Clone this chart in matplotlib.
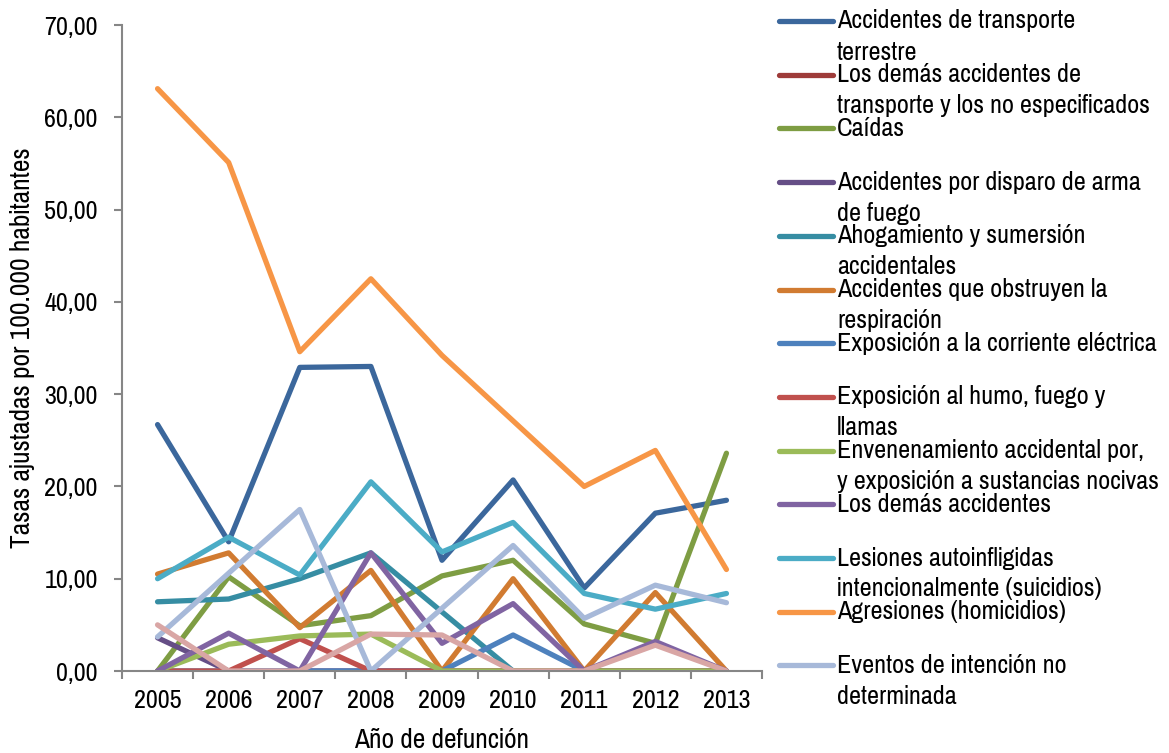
import matplotlib
matplotlib.use("Agg")
import matplotlib.pyplot as plt
from matplotlib import font_manager
from matplotlib.lines import Line2D

# pick a narrow sans face, falling back to a regular one
installed = {f.name for f in font_manager.fontManager.ttflist}
narrow_faces = ['Arial Narrow', 'Liberation Sans Narrow', 'Pragati Narrow', 'Archivo Narrow',
                'PT Sans Narrow', 'Roboto Condensed', 'IBM Plex Sans Condensed']
face = next((f for f in narrow_faces if f in installed), 'Liberation Sans')
plt.rcParams['font.family'] = [face, 'DejaVu Sans']
narrow = face != 'Liberation Sans'
size = 20.5 if narrow else 15.5
label_size = 21.5 if narrow else 16

years = ['2005', '2006', '2007', '2008', '2009', '2010', '2011', '2012', '2013']

transporte_terrestre = [26.7, 14.0, 32.9, 33.0, 12.0, 20.7, 9.0, 17.1, 18.5]
demas_transporte = [0.0, 0.0, 0.0, 0.0, 0.0, 0.0, 0.0, 0.0, 0.0]
caidas = [0.0, 10.2, 4.9, 6.0, 10.3, 12.0, 5.1, 3.0, 23.6]
disparo_arma = [3.6, 0.0, 0.0, 0.0, 0.0, 0.0, 0.0, 0.0, 0.0]
ahogamiento = [7.5, 7.8, 10.0, 12.8, 6.4, 0.0, 0.0, 0.0, 0.0]
obstruyen_respiracion = [10.5, 12.8, 4.7, 10.9, 0.0, 10.0, 0.0, 8.5, 0.0]
corriente_electrica = [0.0, 0.0, 0.0, 0.0, 0.0, 3.9, 0.0, 0.0, 0.0]
humo_fuego = [0.0, 0.0, 3.5, 0.0, 0.0, 0.0, 0.0, 0.0, 0.0]
envenenamiento = [0.0, 2.9, 3.8, 4.0, 0.0, 0.0, 0.0, 0.0, 0.0]
demas_accidentes = [0.0, 4.1, 0.0, 12.8, 3.0, 7.3, 0.0, 3.2, 0.0]
suicidios = [10.0, 14.5, 10.4, 20.5, 12.9, 16.1, 8.4, 6.7, 8.4]
homicidios = [63.1, 55.1, 34.6, 42.5, 34.2, 27.1, 20.0, 23.9, 11.0]
intencion_no_determinada = [3.7, 10.6, 17.5, 0.0, 6.8, 13.6, 5.7, 9.3, 7.4]
otras_causas = [5.0, 0.0, 0.0, 4.0, 3.9, 0.0, 0.0, 2.8, 0.0]

series = [
    ("Accidentes de transporte\nterrestre", transporte_terrestre, "#3B679C"),
    ("Los demás accidentes de\ntransporte y los no especificados", demas_transporte, "#9E3B39"),
    ("Caídas", caidas, "#7E9D43"),
    ("Accidentes por disparo de arma\nde fuego", disparo_arma, "#654E86"),
    ("Ahogamiento y sumersión\naccidentales", ahogamiento, "#368DA3"),
    ("Accidentes que obstruyen la\nrespiración", obstruyen_respiracion, "#D17B31"),
    ("Exposición a la corriente eléctrica", corriente_electrica, "#4E81BD"),
    ("Exposición al humo, fuego y\nllamas", humo_fuego, "#C0504D"),
    ("Envenenamiento accidental por,\ny exposición a sustancias nocivas", envenenamiento, "#9BBB59"),
    ("Los demás accidentes", demas_accidentes, "#8064A2"),
    ("Lesiones autoinfligidas\nintencionalmente (suicidios)", suicidios, "#4BACC6"),
    ("Agresiones (homicidios)", homicidios, "#F79646"),
    ("Eventos de intención no\ndeterminada", intencion_no_determinada, "#A7B9D9"),
    (None, otras_causas, "#D9A6A5"),
]

y_ticks = [0, 10, 20, 30, 40, 50, 60, 70]
y_tick_labels = ['0,00', '10,00', '20,00', '30,00', '40,00', '50,00', '60,00', '70,00']

W, H = 1169, 753
fig = plt.figure(figsize=(W / 100, H / 100), dpi=100)
ax = fig.add_axes([122 / W, 1 - 671 / H, (762 - 122) / W, (671 - 25) / H])

x = list(range(len(years)))
for label, values, color in series:
    ax.plot(x, values, color=color, lw=3.8, solid_capstyle='round',
            solid_joinstyle='round', label=label if label else '_nolegend_')

axis_gray = '#868686'
ax.set_xlim(-0.5, len(years) - 0.5)
ax.set_ylim(0, 70)
for side in ('top', 'right'):
    ax.spines[side].set_visible(False)
for side in ('left', 'bottom'):
    ax.spines[side].set_color(axis_gray)
    ax.spines[side].set_linewidth(1.5)

ax.set_yticks(y_ticks)
ax.set_yticklabels(y_tick_labels)
ax.tick_params(axis='y', which='major', length=5.5, width=1.5, color=axis_gray,
               pad=12, labelsize=size, labelcolor='black')

# category labels sit between the boundary tick marks
ax.set_xticks([i - 0.5 for i in range(len(years) + 1)])
ax.set_xticklabels([])
ax.set_xticks(x, minor=True)
ax.set_xticklabels(years, minor=True)
ax.tick_params(axis='x', which='major', length=5.5, width=1.5, color=axis_gray)
ax.tick_params(axis='x', which='minor', length=0, pad=13, labelsize=size,
               labelcolor='black')

fig.text(442 / W, 1 - 740 / H, "Año de defunción", ha='center', va='center',
         fontsize=label_size)
fig.text(23 / W, 1 - 348 / H, "Tasas ajustadas por 100.000 habitantes", ha='center',
         va='center', rotation=90, fontsize=label_size)

# legend drawn entry by entry, handle level with the first text line
entry_top = 21
entry_step = 53.7
line_step = 31
k = 0
for label, values, color in series:
    if label is None:
        continue
    yp = entry_top + entry_step * k
    yf = 1 - yp / H
    fig.add_artist(Line2D([779 / W, 833 / W], [yf, yf], transform=fig.transFigure,
                          color=color, lw=3.8, solid_capstyle='round'))
    for j, part in enumerate(label.split('\n')):
        fig.text(837 / W, 1 - (yp + j * line_step) / H, part, ha='left',
                 va='center', fontsize=size)
    k += 1

fig.savefig("out.png", dpi=100)
